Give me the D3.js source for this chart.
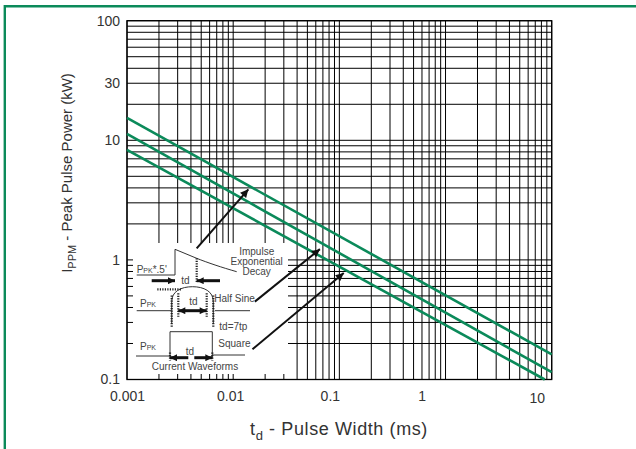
<!DOCTYPE html>
<html>
<head>
<meta charset="utf-8">
<script src="https://cdn.jsdelivr.net/npm/d3@7"></script>
<style>
  body { margin: 0; background: #fff; }
  svg { display: block; font-family: "Liberation Sans", Arial, sans-serif; }
</style>
</head>
<body>
<div id="chart"></div>
<script>
const xTicks = [0.001, 0.01, 0.1, 1, 10];
const xTickLabels = ['0.001', '0.01', '0.1', '1', '10'];
const yTicks = [0.1, 1, 10, 30, 100];
const yTickLabels = ['0.1', '1', '10', '30', '100'];

// pulse width (ms) -> peak pulse power (kW), one per waveform
const curveTop = [[0.001, 15.4], [10, 0.162]];
const curveMid = [[0.001, 11.3], [10, 0.115]];
const curveLow = [[0.001, 8.3], [8.6, 0.1]];

// pointers from the waveform sketches to the curves
const arrowImpulse = [[0.00453, 1.25], [0.0139, 3.89]];
const arrowHalfSine = [[0.016, 0.448], [0.0656, 1.23]];
const arrowSquare = [[0.0152, 0.179], [0.110, 0.776]];

// the scan has its x labels a bit off their gridlines
const xLabelNudge = [0, -3, -9.5, -24, -15];

const W = 636, H = 449;
const green = '#0b8a5a';
const ink = '#333';

const svg = d3.select('#chart').append('svg')
    .attr('width', W)
    .attr('height', H);

const defs = svg.append('defs');
const mk = (id, w, h) => defs.append('marker')
    .attr('id', id)
    .attr('viewBox', '0 0 10 10')
    .attr('refX', 10).attr('refY', 5)
    .attr('markerWidth', w).attr('markerHeight', h)
    .attr('markerUnits', 'userSpaceOnUse')
    .attr('orient', 'auto-start-reverse')
    .append('path').attr('d', 'M0,0 L10,5 L0,10 Z').attr('fill', '#111');
mk('head', 12, 8);
mk('headS', 8, 7);

// page frame (left + top only)
svg.append('path')
    .attr('d', `M4.8,${H} V6.2 H${W}`)
    .attr('fill', 'none')
    .attr('stroke', green)
    .attr('stroke-width', 2.4);

const x = d3.scaleLog().domain([0.001, 10]).range([127, 551.7]);
const y = d3.scaleLog().domain([0.1, 100]).range([379.5, 20.7]);

// grid
const grid = svg.append('g').attr('stroke', '#000').attr('stroke-width', 1);
grid.selectAll('.vx').data(x.ticks()).enter().append('line')
    .attr('x1', d => x(d)).attr('x2', d => x(d))
    .attr('y1', y(100)).attr('y2', y(0.1));
grid.selectAll('.hy').data(y.ticks()).enter().append('line')
    .attr('y1', d => y(d)).attr('y2', d => y(d))
    .attr('x1', x(0.001)).attr('x2', x(10));

// inset sits in the lower-left corner of the plot
const inset = svg.append('g')
    .attr('transform', `translate(${x(0.001)}, ${y(0.1)})`);
inset.append('rect')
    .attr('x', 6).attr('y', -136.5)
    .attr('width', 155).attr('height', 131)
    .attr('fill', '#fff');

svg.append('rect')
    .attr('x', x(0.001)).attr('y', y(100))
    .attr('width', x(10) - x(0.001))
    .attr('height', y(0.1) - y(100))
    .attr('fill', 'none')
    .attr('stroke', '#000')
    .attr('stroke-width', 1.3);

// curves
const line = d3.line().x(d => x(d[0])).y(d => y(d[1]));
svg.selectAll('.curve')
    .data([curveTop, curveMid, curveLow])
    .enter().append('path')
    .attr('class', 'curve')
    .attr('d', line)
    .attr('fill', 'none')
    .attr('stroke', green)
    .attr('stroke-width', 2.6);

// pointer arrows
svg.selectAll('.ptr')
    .data([arrowImpulse, arrowHalfSine, arrowSquare])
    .enter().append('path')
    .attr('class', 'ptr')
    .attr('d', line)
    .attr('stroke', '#111')
    .attr('stroke-width', 2)
    .attr('marker-end', 'url(#head)');

// --- waveform sketches ---
const thin = (d, w) => inset.append('path').attr('d', d)
    .attr('fill', 'none').attr('stroke', '#333').attr('stroke-width', w || 1);
const dotted = d => inset.append('path').attr('d', d)
    .attr('fill', 'none').attr('stroke', '#222')
    .attr('stroke-width', 2.2).attr('stroke-dasharray', '1.2,1.3');
const fat = (d, both) => {
    const p = inset.append('path').attr('d', d)
        .attr('stroke', '#111').attr('stroke-width', 3)
        .attr('marker-end', 'url(#headS)');
    if (both) p.attr('marker-start', 'url(#headS)');
};
const label = (tx, ty, parts, anchor) => {
    const t = inset.append('text')
        .attr('x', tx).attr('y', ty)
        .attr('font-size', 10)
        .attr('fill', '#444')
        .attr('text-anchor', anchor || 'start');
    parts.forEach(p => {
        const s = t.append('tspan').text(p.s);
        if (p.sub) s.attr('font-size', 7);
    });
};

// impulse / exponential decay
thin('M9.7,-104.5 H48 V-130.2 L69.7,-121.2 C80,-117 95,-112 109.7,-107.8');
dotted('M69.7,-121.2 V-96.2');
fat('M24.7,-98.8 H48');
fat('M93,-98.8 H69.7');
label(58.5, -95.3, [{s: 'td'}], 'middle');
label(9.7, -106.5, [{s: 'P'}, {s: 'PK', sub: true}, {s: "*.5'"}]);
label(129.7, -125, [{s: 'Impulse'}], 'middle');
label(129.7, -114.3, [{s: 'Exponential'}], 'middle');
label(129.7, -104.3, [{s: 'Decay'}], 'middle');

// half sine
dotted('M30.3,-90.2 H54.7');
thin('M44.7,-56.2 V-78 C44.7,-88 54,-92.8 65.5,-92.8 C77,-92.8 86.3,-88 86.3,-78 V-56.2');
dotted('M44.7,-84 V-52');
dotted('M86.3,-84 V-52');
dotted('M51.3,-86.2 V-62.8');
dotted('M79.7,-86.2 V-62.8');
fat('M51.3,-68.8 H79.7', true);
thin('M9.7,-68.8 H44.7 M88,-68.8 H123');
label(66.3, -75, [{s: 'td'}], 'middle');
label(13, -73, [{s: 'P'}, {s: 'PK', sub: true}]);
label(87.3, -77.7, [{s: 'Half Sine'}]);
label(92.3, -49.3, [{s: 'td=7tp'}]);

// square
thin('M43,-21 V-47.8 H85.3 V-21');
thin('M9,-23.5 H43 M85.3,-24.5 H118');
dotted('M43,-27 V-19');
dotted('M85.3,-27 V-19');
fat('M61.3,-21.8 H43');
fat('M67.3,-21.8 H85.3');
label(63, -24.3, [{s: 'td'}], 'middle');
label(13, -30, [{s: 'P'}, {s: 'PK', sub: true}]);
label(91.3, -32.7, [{s: 'Square'}]);
label(68, -9.3, [{s: 'Current Waveforms'}], 'middle');

// axes (labels only, grid does the ticks)
const xAxis = svg.append('g')
    .attr('transform', `translate(0, ${y(0.1)})`)
    .call(d3.axisBottom(x)
        .tickValues(xTicks)
        .tickFormat((d, i) => xTickLabels[i])
        .tickSize(0)
        .tickPadding(11.5));
xAxis.select('.domain').remove();
xAxis.selectAll('text')
    .attr('font-family', '"Liberation Sans", Arial, sans-serif')
    .attr('font-size', 14)
    .attr('fill', ink)
    .attr('dx', (d, i) => xLabelNudge[i])
    .attr('transform', (d, i) => i === 4 ? 'translate(0,2)' : null);

const yAxis = svg.append('g')
    .attr('transform', `translate(${x(0.001)}, 0)`)
    .call(d3.axisLeft(y)
        .tickValues(yTicks)
        .tickFormat((d, i) => yTickLabels[i])
        .tickSize(0)
        .tickPadding(7));
yAxis.select('.domain').remove();
yAxis.selectAll('text')
    .attr('font-family', '"Liberation Sans", Arial, sans-serif')
    .attr('font-size', 14)
    .attr('fill', ink);

// axis titles
const xt = svg.append('text')
    .attr('x', 339).attr('y', 435)
    .attr('text-anchor', 'middle')
    .attr('font-size', 18)
    .attr('letter-spacing', 0.6)
    .attr('fill', ink);
xt.append('tspan').text('t');
xt.append('tspan').attr('font-size', 13).attr('dy', 5).text('d');
xt.append('tspan').attr('dy', -5).text('  - Pulse Width (ms)');

const yt = svg.append('text')
    .attr('transform', 'translate(72, 173) rotate(-90)')
    .attr('text-anchor', 'middle')
    .attr('font-size', 15)
    .attr('fill', ink);
yt.append('tspan').text('I');
yt.append('tspan').attr('font-size', 11).attr('dy', 4).text('PPM');
yt.append('tspan').attr('dy', -4).text(' - Peak Pulse Power (kW)');
</script>
</body>
</html>
